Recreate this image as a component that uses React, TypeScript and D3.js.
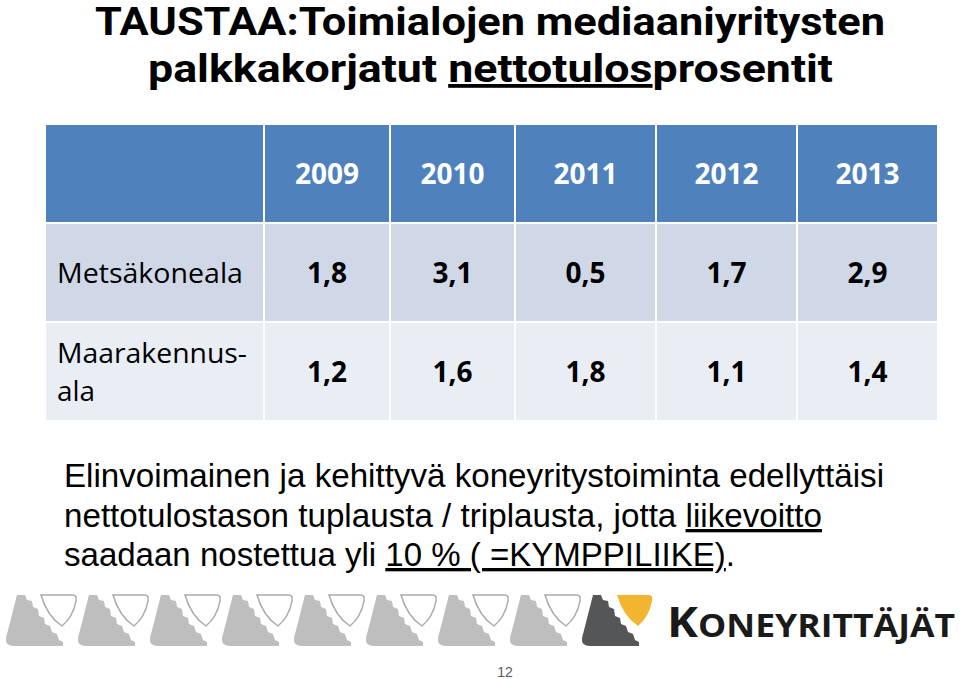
import * as d3 from 'd3';

// Table data
const years = ['2009', '2010', '2011', '2012', '2013'];
const rowLabels = [['Metsäkoneala'], ['Maarakennus-', 'ala']];
const metsakoneala = ['1,8', '3,1', '0,5', '1,7', '2,9'];
const maarakennusala = ['1,2', '1,6', '1,8', '1,1', '1,4'];
const rowValues = [metsakoneala, maarakennusala];

const titleLines = ['TAUSTAA:Toimialojen mediaaniyritysten', 'palkkakorjatut '];
const bodyLines = [
  'Elinvoimainen ja kehittyvä koneyritystoiminta edellyttäisi',
  'nettotulostason tuplausta / triplausta, jotta ',
  'saadaan nostettua yli ',
];
const pageNo = '12';

// layout
const W = 960;
const H = 679;
const colEdges = [46, 265, 391, 516, 657, 798, 939];
const rowScale = d3.scaleBand<string>()
  .domain(['header', 'r0', 'r1'])
  .range([125, 420])
  .paddingInner(0.02);
const bodyFont = "'Liberation Sans', Arial, sans-serif";
const tableFont = "'Open Sans', 'Noto Sans', sans-serif";
const titleFont = "'Liberation Sans Narrow', Roboto, sans-serif";

const gearPath = 'M14,1 L22,1 L24,6 L29,7 L30,13 L35,15 L36,22 L41,24 L42,30 L47,32 L49,38 L54,40 L56,46 L60,48 L60,52 L11,52 Q2,52 3,44 Z';
const shieldPath = 'M38,1 L70,1 Q74,1 73,7 Q70,23 59,32 Q44,22 38,1 Z';

export default function App() {
  const cols = d3.pairs(colEdges);
  const units = d3.range(9);
  return (
    <svg width={W} height={H} style={{ position: 'absolute', left: 0, top: 0, background: '#fff' }}>
      {/* title */}
      <text x={490} y={35} textAnchor="middle" fontFamily={titleFont} fontWeight="bold" fontSize={38}
        textLength={790} lengthAdjust="spacingAndGlyphs">{titleLines[0]}</text>
      <text x={148} y={82} fontFamily={titleFont} fontWeight="bold" fontSize={38}
        textLength={685} lengthAdjust="spacingAndGlyphs">
        {titleLines[1]}<tspan textDecoration="underline">nettotulos</tspan>prosentit
      </text>

      {/* table header */}
      <g>
        {cols.map(([x0, x1], i) => (
          <rect key={'h' + i} x={x0} y={rowScale('header')} width={x1 - x0 - 2}
            height={rowScale.bandwidth()} fill="#4F81BD" />
        ))}
        {years.map((y, i) => (
          <text key={y} x={(cols[i + 1][0] + cols[i + 1][1] - 2) / 2} y={184} textAnchor="middle"
            fontFamily={tableFont} fontWeight="bold" fontSize={28} fill="#fff">{y}</text>
        ))}
      </g>

      {/* table body */}
      {rowValues.map((vals, r) => {
        const y0 = rowScale('r' + r) as number;
        const fill = r === 0 ? '#D0D8E8' : '#E9EDF4';
        return (
          <g key={'r' + r}>
            {cols.map(([x0, x1], i) => (
              <rect key={i} x={x0} y={y0} width={x1 - x0 - 2} height={rowScale.bandwidth()} fill={fill} />
            ))}
            {rowLabels[r].map((l, k) => (
              <text key={l} x={57} y={r === 0 ? 283 : 363 + k * 38} fontFamily={tableFont} fontSize={28}
                fill="#000" textLength={r === 0 ? 186 : (k === 0 ? 190 : 38)} lengthAdjust="spacingAndGlyphs">{l}</text>
            ))}
            {vals.map((v, i) => (
              <text key={i} x={(cols[i + 1][0] + cols[i + 1][1] - 2) / 2} y={r === 0 ? 283 : 382}
                textAnchor="middle" fontFamily={tableFont} fontWeight="bold" fontSize={28} fill="#000">{v}</text>
            ))}
          </g>
        );
      })}

      {/* body text */}
      <g fontFamily={bodyFont} fontSize={33} fill="#000">
        <text x={64} y={487} textLength={820} lengthAdjust="spacingAndGlyphs">{bodyLines[0]}</text>
        <text x={64} y={527} textLength={758} lengthAdjust="spacingAndGlyphs">
          {bodyLines[1]}<tspan textDecoration="underline">liikevoitto</tspan>
        </text>
        <text x={64} y={566} textLength={671} lengthAdjust="spacingAndGlyphs">
          {bodyLines[2]}<tspan textDecoration="underline">10 % ( =KYMPPILIIKE)</tspan>.
        </text>
      </g>

      {/* logo */}
      <g>
        {units.map(i => (
          <g key={i} transform={`translate(${3 + i * 72},594)`}>
            <path d={gearPath} fill={i === 8 ? '#555657' : '#BDBEBD'} />
            <path d={shieldPath} fill={i === 8 ? '#F2B530' : '#fff'}
              stroke={i === 8 ? 'none' : '#A9AAA9'} strokeWidth={1.5} />
          </g>
        ))}
        <text x={667} y={637} fontFamily={tableFont} fontWeight="bold" fill="#1a1a1a"
          textLength={288} lengthAdjust="spacingAndGlyphs">
          <tspan fontSize={42}>K</tspan><tspan fontSize={32}>ONEYRITTÄJÄT</tspan>
        </text>
      </g>

      <text x={505} y={677} textAnchor="middle" fontFamily={bodyFont} fontSize={14} fill="#595959">{pageNo}</text>
    </svg>
  );
}
